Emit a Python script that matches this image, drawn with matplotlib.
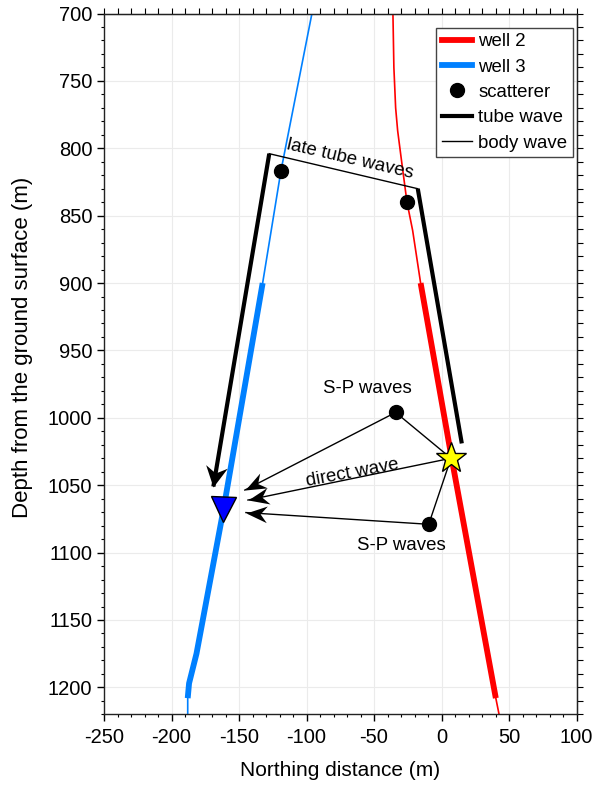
import numpy as np
import matplotlib
matplotlib.use("Agg")
import matplotlib.pyplot as plt
from matplotlib.lines import Line2D
from matplotlib.markers import MarkerStyle
from matplotlib.path import Path
from matplotlib.transforms import Affine2D
from matplotlib.ticker import MultipleLocator

plt.rcParams["font.family"] = ["Liberation Sans", "DejaVu Sans"]
plt.rcParams["axes.unicode_minus"] = False

# well trajectories: northing (m) vs depth (m)
WELL2_X = [-36.0, -35.3, -34.0, -32.5, -29.8, -25.6, -21.4, -15.5, 7.5, 40.2, 42.6]
WELL2_DEPTH = [700, 740, 770, 787, 808, 840, 861, 900, 1030, 1208, 1220]
WELL3_X = [-96.0, -119.0, -132.5, -161.5, -181.5, -187.0, -188.0, -188.0]
WELL3_DEPTH = [700, 817, 900, 1068, 1175, 1197, 1208, 1220]
LOGGED_TOP = 900
LOGGED_BOTTOM = 1208

SOURCE = (7.0, 1030.0)
RECEIVER = (-161.5, 1068.0)
SCATTER_X = [-119.0, -25.6, -34.0, -9.5]
SCATTER_DEPTH = [817, 840, 996, 1079]

# late tube wave: up well 2, across to well 3, down to the receiver
TUBE_UP_X = [15.0, -17.6]
TUBE_UP_DEPTH = [1019, 830]
TUBE_ACROSS_X = [-17.6, -127.6]
TUBE_ACROSS_DEPTH = [830, 804]
TUBE_DOWN_X = [-127.6, -169.0]
TUBE_DOWN_DEPTH = [804, 1051]

# body wave ray ends next to the receiver
DIRECT_END = (-143.4, 1061.0)
SP_UPPER_END = (-145.7, 1053.6)
SP_LOWER_END = (-144.9, 1070.3)

RED = "#ff0000"
BLUE = "#0080ff"
FS = 13.4


def head_path(width):
    verts = [(0, 0), (-1, width / 2), (-0.68, 0), (-1, -width / 2), (0, 0)]
    codes = [Path.MOVETO, Path.LINETO, Path.LINETO, Path.LINETO, Path.CLOSEPOLY]
    return Path(verts, codes)


def arrow_head(ax, p_from, p_to, size, width):
    a = ax.transData.transform(p_from)
    b = ax.transData.transform(p_to)
    ang = np.degrees(np.arctan2(b[1] - a[1], b[0] - a[0]))
    m = MarkerStyle(head_path(width), transform=Affine2D().rotate_deg(ang))
    ax.plot(p_to[0], p_to[1], marker=m, ms=size, color="k", mew=0, ls="none", zorder=6)


fig = plt.figure(figsize=(5.95, 7.86), dpi=100)
ax = fig.add_axes([0.1748, 0.0912, 0.7942, 0.8916])
ax.set_xlim(-250, 100)
ax.set_ylim(1220, 700)

# wells: thin full trajectory, thick over the logged interval
for xs, ds, col in [(WELL2_X, WELL2_DEPTH, RED), (WELL3_X, WELL3_DEPTH, BLUE)]:
    xs = np.array(xs)
    ds = np.array(ds)
    ax.plot(xs, ds, color=col, lw=1.2, zorder=2)
    sel = (ds >= LOGGED_TOP) & (ds <= LOGGED_BOTTOM)
    ax.plot(xs[sel], ds[sel], color=col, lw=4.2, solid_capstyle="butt", zorder=2)

# tube wave path
ax.plot(TUBE_UP_X, TUBE_UP_DEPTH, color="k", lw=3, solid_capstyle="butt", zorder=3)
ax.plot(TUBE_ACROSS_X, TUBE_ACROSS_DEPTH, color="k", lw=1, zorder=3)
ax.plot(TUBE_DOWN_X, TUBE_DOWN_DEPTH, color="k", lw=3, solid_capstyle="butt", zorder=3)
arrow_head(ax, (TUBE_DOWN_X[0], TUBE_DOWN_DEPTH[0]), (TUBE_DOWN_X[1], TUBE_DOWN_DEPTH[1]), 30, 1.05)

# body waves
ax.plot([SOURCE[0], DIRECT_END[0]], [SOURCE[1], DIRECT_END[1]], color="k", lw=1, zorder=3)
arrow_head(ax, SOURCE, DIRECT_END, 30, 0.8)
for k, end in [(2, SP_UPPER_END), (3, SP_LOWER_END)]:
    sc = (SCATTER_X[k], SCATTER_DEPTH[k])
    ax.plot([SOURCE[0], sc[0], end[0]], [SOURCE[1], sc[1], end[1]], color="k", lw=1, zorder=3)
    arrow_head(ax, sc, end, 30, 0.8)

ax.plot(SCATTER_X, SCATTER_DEPTH, "o", color="k", ms=10, zorder=5)
ax.plot(*SOURCE, marker="*", ms=23, mfc="#ffff00", mec="k", mew=1, zorder=7)
ax.plot(*RECEIVER, marker="v", ms=18, mfc="#0000ff", mec="k", mew=1, zorder=7)

ax.text(-68, 808, "late tube waves", fontsize=FS, rotation=-13,
        ha="center", va="center", rotation_mode="anchor")
ax.text(-66, 1041, "direct wave", fontsize=FS, rotation=10.5,
        ha="center", va="center", rotation_mode="anchor")
ax.text(-55, 978, "S-P waves", fontsize=FS, ha="center", va="center")
ax.text(-30, 1095, "S-P waves", fontsize=FS, ha="center", va="center")

# axes styling
ax.xaxis.set_major_locator(MultipleLocator(50))
ax.xaxis.set_minor_locator(MultipleLocator(10))
ax.yaxis.set_major_locator(MultipleLocator(50))
ax.yaxis.set_minor_locator(MultipleLocator(10))
ax.tick_params(which="major", direction="out", length=5, width=1, labelsize=14.5)
ax.tick_params(axis="x", which="major", pad=5)
ax.tick_params(which="minor", direction="out", length=2.5, width=0.8)
ax.grid(True, which="major", color="#ebebeb", lw=0.8)
ax.set_axisbelow(True)
for s in ax.spines.values():
    s.set_linewidth(1)
    s.set_color("#222222")

top = ax.secondary_xaxis("top")
top.xaxis.set_major_locator(MultipleLocator(10))
top.tick_params(direction="out", length=4, width=0.8, labeltop=False)
right = ax.secondary_yaxis("right")
right.yaxis.set_major_locator(MultipleLocator(10))
right.tick_params(direction="out", length=4, width=0.8, labelright=False)

ax.set_xlabel("Northing distance (m)", fontsize=15, labelpad=10)
ax.set_ylabel("Depth from the ground surface (m)", fontsize=16)
ax.yaxis.set_label_coords(-0.151, 0.524)

handles = [
    Line2D([], [], color=RED, lw=4.2),
    Line2D([], [], color=BLUE, lw=4.2),
    Line2D([], [], color="k", marker="o", ms=10, ls="none"),
    Line2D([], [], color="k", lw=3),
    Line2D([], [], color="k", lw=1),
]
labels = ["well 2", "well 3", "scatterer", "tube wave", "body wave"]
leg = ax.legend(handles, labels, loc="upper right", bbox_to_anchor=(0.992, 0.980),
                borderaxespad=0, fontsize=FS, fancybox=False, framealpha=1,
                edgecolor="#444444", handlelength=1.6, handletextpad=0.35,
                borderpad=0.3, labelspacing=0.45)
leg.get_frame().set_linewidth(1)

fig.savefig("out.png", dpi=100)
